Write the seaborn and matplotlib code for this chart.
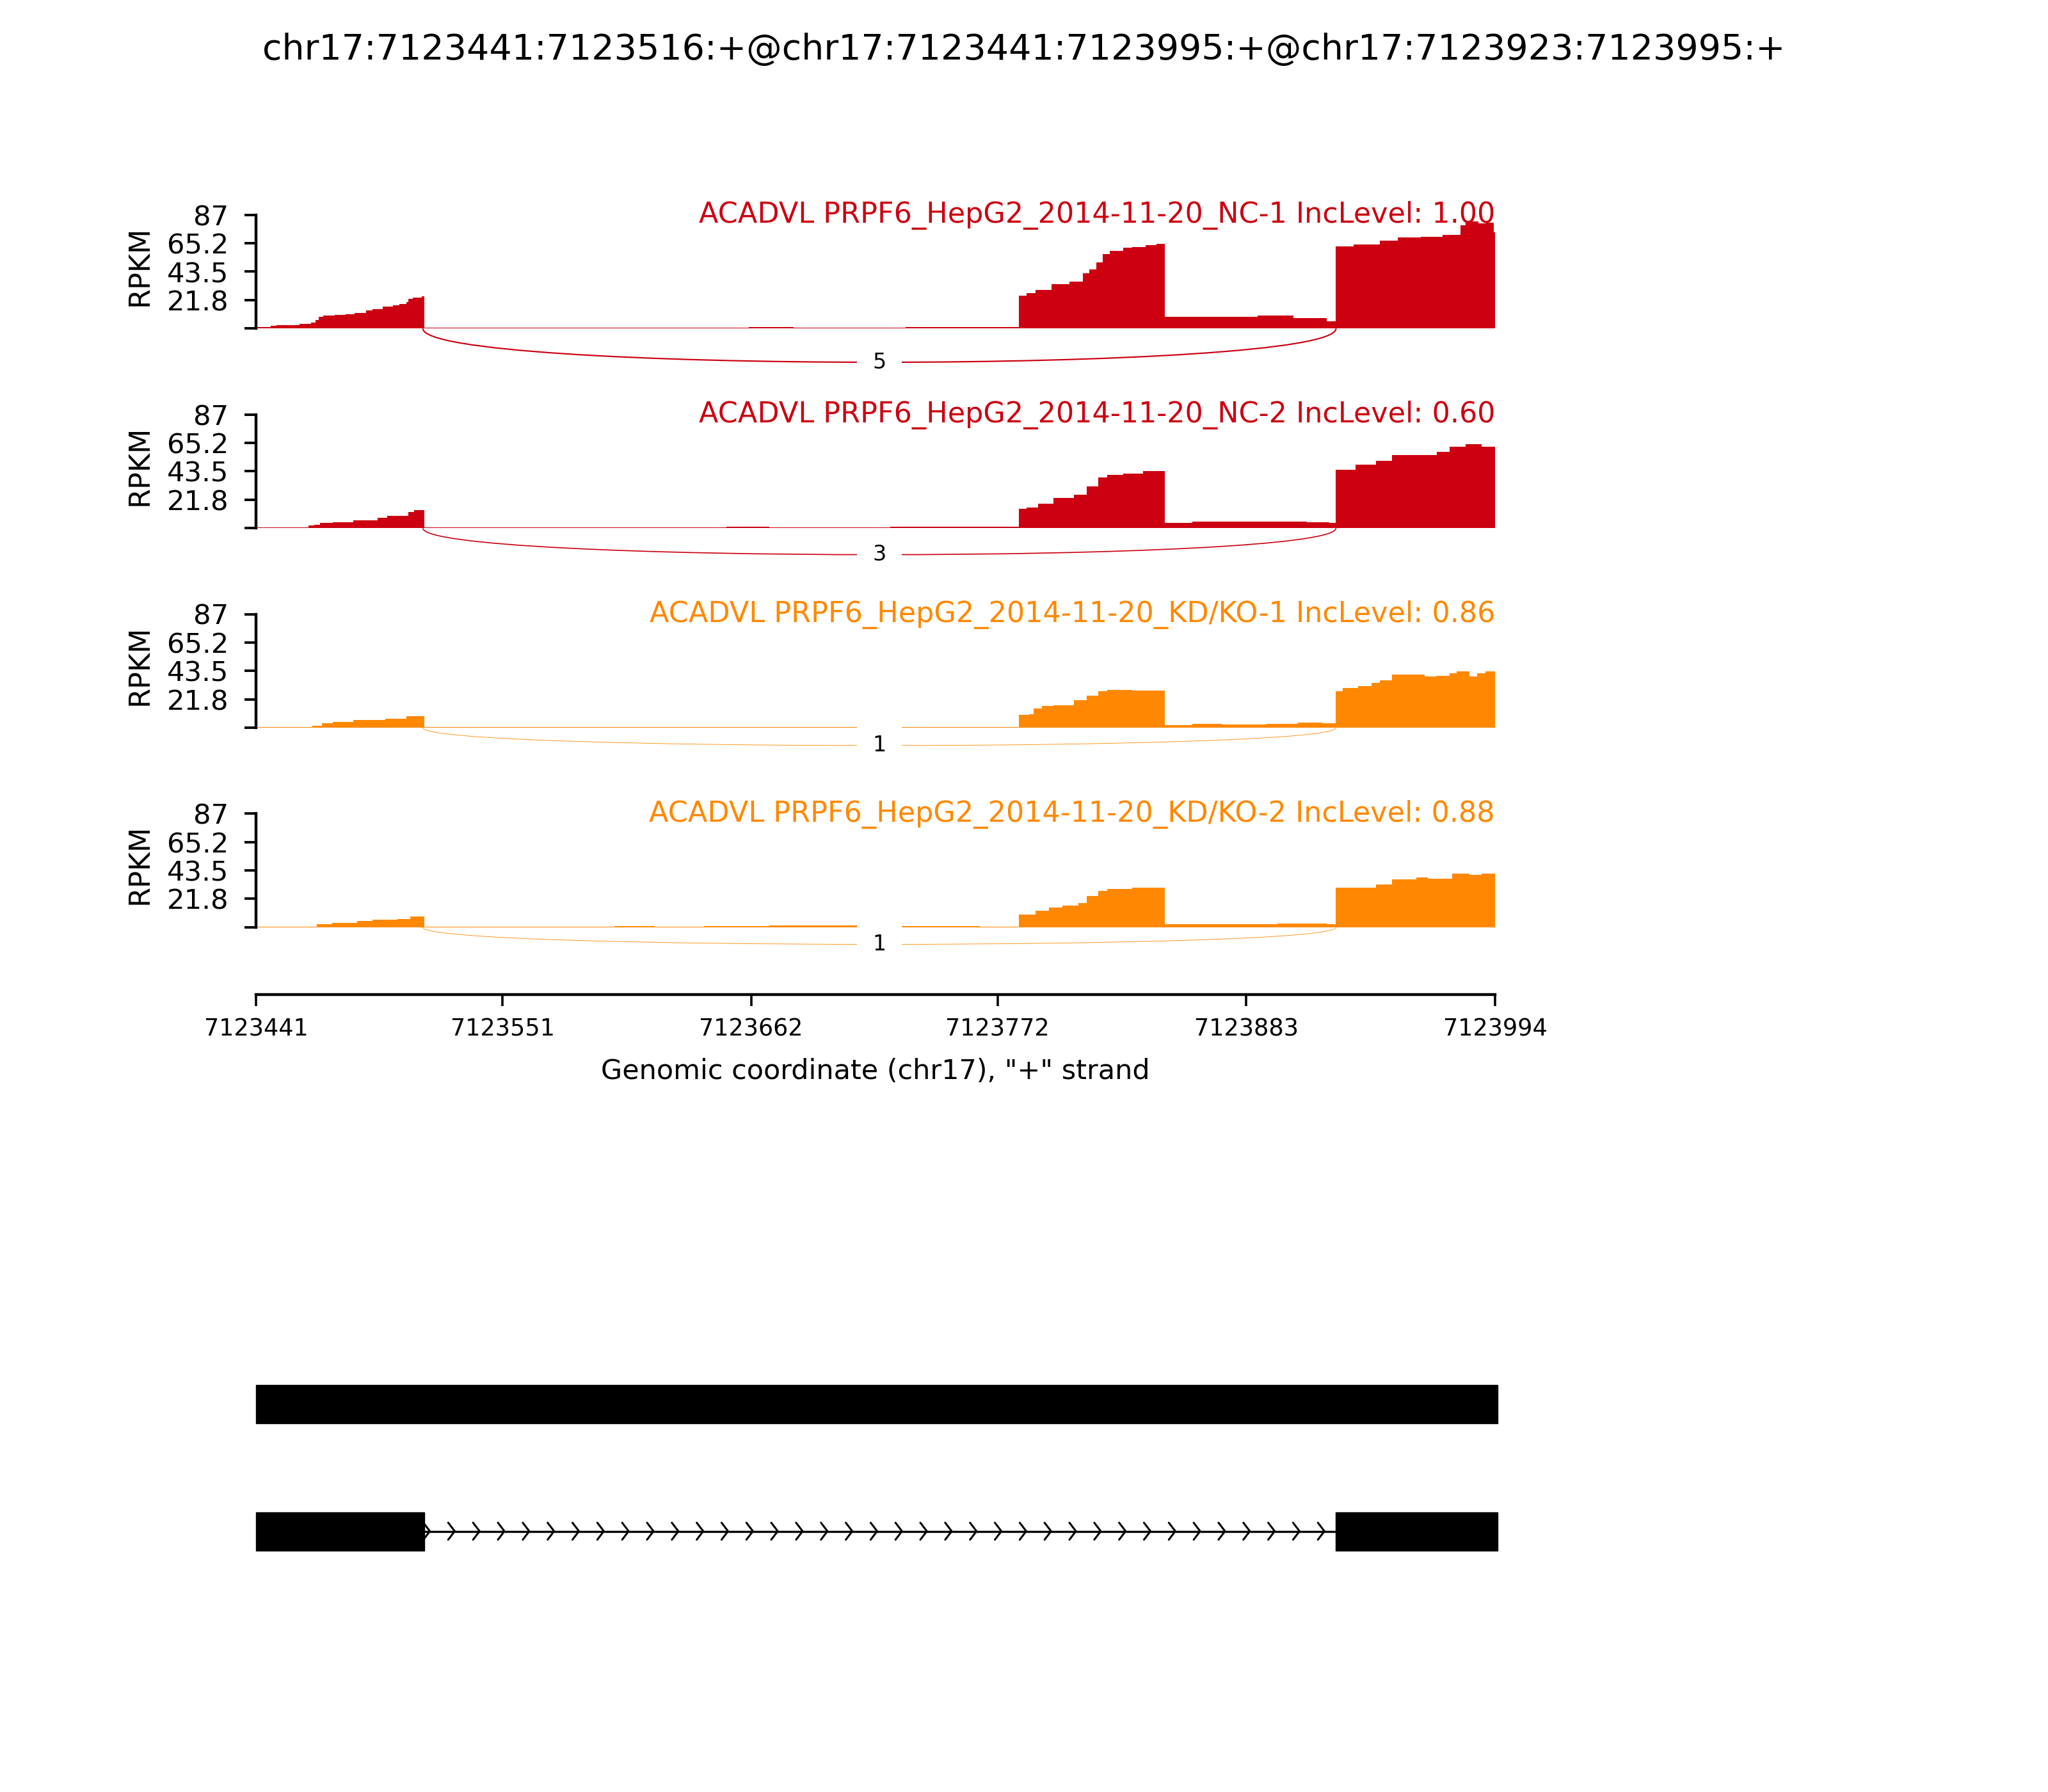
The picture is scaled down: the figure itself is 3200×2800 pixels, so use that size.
import numpy as np
import matplotlib
matplotlib.use("Agg")
import matplotlib.pyplot as plt
from matplotlib.path import Path
from matplotlib.patches import PathPatch, Rectangle
import seaborn as sns

# event / region
chrom = "chr17"
start, end = 7123441, 7123994
event = "chr17:7123441:7123516:+@chr17:7123441:7123995:+@chr17:7123923:7123995:+"

samples = ["ACADVL PRPF6_HepG2_2014-11-20_NC-1 IncLevel: 1.00",
           "ACADVL PRPF6_HepG2_2014-11-20_NC-2 IncLevel: 0.60",
           "ACADVL PRPF6_HepG2_2014-11-20_KD/KO-1 IncLevel: 0.86",
           "ACADVL PRPF6_HepG2_2014-11-20_KD/KO-2 IncLevel: 0.88"]
colors = ["#CC0011", "#CC0011", "#FF8800", "#FF8800"]
jxn_counts = [5, 3, 1, 1]

ymax = 87
ytick_vals = [0, 21.8, 43.5, 65.2, 87]
ytick_labels = ["", "21.8", "43.5", "65.2", "87"]
xtick_vals = [7123441, 7123551, 7123662, 7123772, 7123883, 7123994]

# junction ends (offset from start)
jxn_left, jxn_right = 74.5, 482

# isoforms for the gene model
iso_exons = [[(7123441, 7123995)],
             [(7123441, 7123516), (7123923, 7123995)]]

# coverage: offset from start where a level begins, and RPKM level
nc1_pos = [0, 6.5, 9, 19.5, 24.7, 26.6, 28, 30, 35, 40, 44, 49, 52, 56.5, 61, 64, 67, 68, 70, 74,
           75, 95, 150, 220, 240, 290,
           340.5, 344, 348, 355, 363, 369, 372, 375, 378, 381, 387, 391, 397, 402,
           405.5, 447, 463, 478,
           482, 490, 501.5, 509.5, 520, 529.5, 537.5, 540, 545.5, 549, 552.5]
nc1_val = [1.3, 1.9, 2.6, 3.6, 4.5, 6.5, 8.9, 9.7, 10.2, 11.0, 11.8, 13.8, 14.9, 17.0, 17.8, 19.0, 20.0, 22.7, 23.5, 24.6,
           0.5, 0.6, 0.8, 1.0, 0.6, 1.0,
           25.3, 27.0, 29.4, 34.0, 36.0, 42.4, 45.0, 50.6, 57.0, 59.6, 61.7, 62.3, 63.6, 64.8,
           9.2, 9.8, 8.0, 5.5,
           63.0, 64.5, 67.5, 69.5, 70.0, 71.5, 79.0, 82.0, 80.5, 81.0, 73.5]

nc2_pos = [0, 23.3, 26, 28.7, 34.2, 43.3, 54.2, 58.6, 68, 70.6,
           75, 130, 210, 229, 283,
           340.5, 344, 349, 356, 365, 370.7, 376, 380, 387, 396,
           405.5, 418, 469, 479,
           482, 490.7, 499.8, 507, 527, 532.6, 539.8, 547]
nc2_val = [0.5, 2.0, 2.5, 3.8, 4.4, 6.2, 7.7, 9.4, 12.3, 13.6,
           0.5, 0.6, 1.0, 0.6, 0.9,
           14.8, 15.6, 18.9, 23.0, 25.5, 32.0, 38.6, 41.0, 41.9, 43.5,
           3.8, 4.9, 4.4, 3.8,
           44.7, 48.4, 51.7, 55.8, 58.3, 62.4, 64.5, 62.4]

kd1_pos = [0, 25, 29.5, 34.2, 43.3, 57.8, 67,
           75, 116, 141, 289, 318,
           340.5, 345, 347, 350.7, 356, 365, 370.7, 376, 380, 391,
           405.5, 418, 431, 451, 465, 476,
           482, 485, 492, 498, 501.6, 507, 521.6, 527, 532.6, 536, 541.6, 545, 548.6]
kd1_val = [0.5, 1.6, 3.3, 4.6, 6.1, 6.9, 9.0,
           0.5, 0.7, 0.5, 0.7, 0.5,
           9.9, 10.2, 14.8, 16.7, 17.4, 21.3, 24.6, 27.9, 29.0, 28.4,
           2.1, 2.8, 2.3, 3.0, 3.9, 3.3,
           27.9, 30.4, 32.0, 34.5, 36.1, 40.7, 39.4, 39.7, 41.9, 43.2, 39.4, 41.9, 43.0]

kd2_pos = [0, 27, 34, 45, 52, 63, 68.8,
           75, 160, 178, 200, 229, 269, 289, 323,
           340.5, 348, 354, 360, 367, 370.7, 376, 380, 391,
           405.5, 456, 478,
           482, 500, 507, 518, 523, 534, 541.6, 547]
kd2_val = [0.5, 2.5, 3.6, 4.7, 6.0, 6.4, 8.5,
           0.5, 0.8, 0.5, 0.9, 1.5, 1.2, 1.0, 0.6,
           9.8, 12.6, 15.0, 16.7, 18.8, 24.0, 28.1, 29.4, 30.6,
           2.3, 2.8, 2.3,
           30.3, 33.0, 36.6, 38.0, 37.1, 41.2, 40.4, 41.2]

cov_pos = [nc1_pos, nc2_pos, kd1_pos, kd2_pos]
cov_val = [nc1_val, nc2_val, kd1_val, kd2_val]

sns.set_style("ticks", {"axes.edgecolor": "black", "xtick.color": "black",
                        "ytick.color": "black", "text.color": "black",
                        "axes.labelcolor": "black"})
plt.rcParams["font.family"] = ["DejaVu Sans"]
plt.rcParams["axes.linewidth"] = 1.6

W, H = 3200, 2800
fig = plt.figure(figsize=(16, 14), dpi=200)
fig.suptitle(event, fontsize=20, y=0.9722, va="center")

left = 400 / W
width = 1936 / W

for i in range(4):
    y0 = 513.3 + 311.9 * i
    ax = fig.add_axes([left, 1 - y0 / H, width, 177.6 / H])
    if i < 3:
        sns.despine(ax=ax, bottom=True)
    else:
        sns.despine(ax=ax, offset={"bottom": 37.8})

    c = colors[i]
    x = start + np.array(cov_pos[i] + [553])
    y = np.array(cov_val[i] + [cov_val[i][-1]])
    ax.fill_between(x, y, 0, step="post", color=c, lw=0)

    # junction arc below the track
    h = 0.42 * max(cov_val[i])
    ss1, ss2 = start + jxn_left, start + jxn_right
    verts = [(ss1, 0), (ss1, -h), (ss2, -h), (ss2, 0)]
    arc = Path(verts, [Path.MOVETO, Path.CURVE4, Path.CURVE4, Path.CURVE4])
    n = jxn_counts[i]
    ax.add_patch(PathPatch(arc, ec=c, fc="none", lw=np.log10(n + 1), clip_on=False))
    ax.text((ss1 + ss2) / 2, -0.75 * h, str(n), fontsize=12, ha="center", va="center",
            bbox=dict(fc="white", ec="none", pad=8.8), clip_on=False, zorder=5)

    ax.text(end, 81, samples[i], ha="right", va="baseline", color=c, fontsize=16)

    ax.set_xlim(start, end)
    ax.set_ylim(0, ymax)
    ax.set_yticks(ytick_vals)
    ax.set_yticklabels(ytick_labels, fontsize=15.6)
    ax.tick_params(axis="y", length=6.4, width=1.4, pad=9)
    ax.set_ylabel("RPKM", fontsize=16)
    ax.yaxis.set_label_coords(-0.0826, 0.553)

    if i < 3:
        ax.set_xticks([])
    else:
        ax.set_xticks(xtick_vals)
        ax.set_xticklabels([str(t) for t in xtick_vals], fontsize=13.2)
        ax.tick_params(axis="x", length=6.4, width=1.3, pad=6.5)
        ax.set_xlabel('Genomic coordinate (%s), "+" strand' % chrom, fontsize=15.5, labelpad=9.5)

# gene models
gax = fig.add_axes([left, 1 - 2491.75 / H, width, 397 / H])
gax.set_xlim(start, end)
gax.set_ylim(-1.5, 0.5)
gax.axis("off")
exon_h = 60 / 198.5
for i, exons in enumerate(iso_exons):
    yloc = -i
    for s, e in exons:
        gax.add_patch(Rectangle((s, yloc - exon_h / 2), e - s, exon_h,
                                fc="k", ec="k", lw=0.5, clip_on=False))
    for (s1, e1), (s2, e2) in zip(exons[:-1], exons[1:]):
        gax.plot([e1, s2], [yloc, yloc], color="k", lw=1.2)
        for tip in np.arange(e1 + 2.6, s2 - 2, 11.09):
            gax.plot([tip - 2.9, tip, tip - 2.9], [yloc - 0.067, yloc, yloc + 0.067],
                     color="k", lw=1.1)

fig.savefig("out.png", dpi=200)
